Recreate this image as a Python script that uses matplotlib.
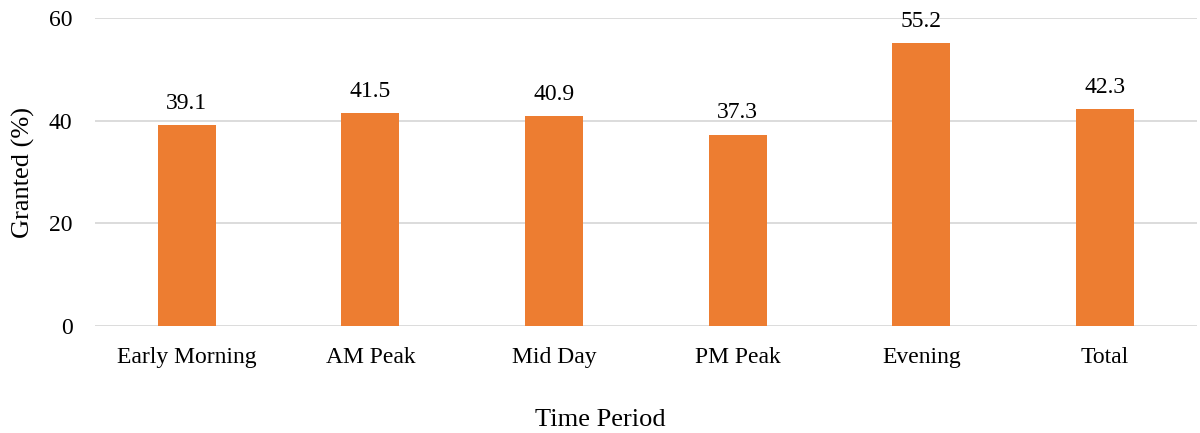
import numpy as np
import matplotlib
matplotlib.use('Agg')
from matplotlib import pyplot as plt

periods = ['Early Morning', 'AM Peak', 'Mid Day', 'PM Peak', 'Evening', 'Total']
granted = [39.1, 41.5, 40.9, 37.3, 55.2, 42.3]

plt.rcParams['font.family'] = ['Liberation Serif', 'DejaVu Serif']

fig = plt.figure(figsize=(12, 4.33), dpi=100)
ax = fig.add_axes([0.079, 0.247, 0.9185, 0.711])

x = np.arange(len(periods))
bars = ax.bar(x, granted, width=0.316, color='#ED7D31', zorder=3)
for b, v in zip(bars, granted):
    ax.text(b.get_x() + b.get_width() / 2, v + 2.2, f'{v:.1f}',
            ha='center', va='bottom', fontsize=17, color='#000000')

ax.set_xlim(-0.5, len(periods) - 0.5)
ax.set_ylim(0, 60)
ax.set_yticks([0, 20, 40, 60])
ax.set_xticks(x)
ax.set_xticklabels(periods)
ax.tick_params(axis='both', length=0, labelsize=17, colors='#000000')
ax.tick_params(axis='x', pad=15)
ax.tick_params(axis='y', pad=16)
ax.grid(axis='y', color='#D9D9D9', linewidth=1.3, zorder=0)
for s in ax.spines.values():
    s.set_visible(False)

ax.set_ylabel('Granted (%)', fontsize=19, labelpad=10)
fig.text(0.5, 0.03, 'Time Period', ha='center', va='center', fontsize=19)

fig.savefig('out.png', dpi=100)
